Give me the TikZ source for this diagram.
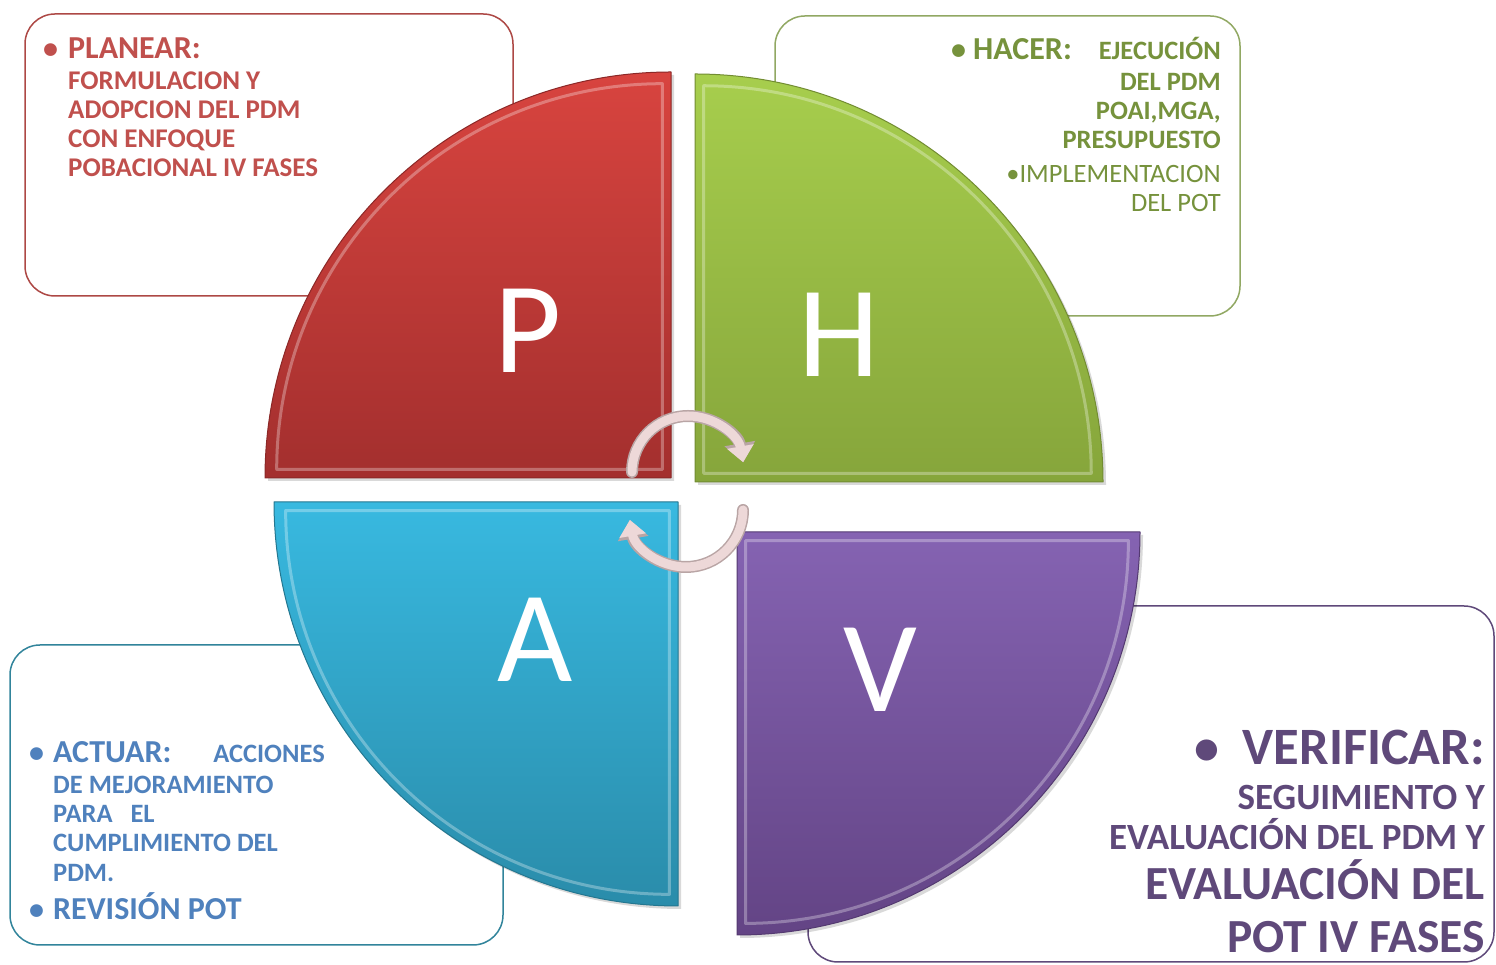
\documentclass[tikz,border=0pt]{standalone}
\usepackage{fontspec}
\setmainfont{Carlito}
\usetikzlibrary{arrows.meta}
\usetikzlibrary{positioning}

\definecolor{rojo}{HTML}{C0504D}
\definecolor{rojoA}{HTML}{D8443F}
\definecolor{rojoB}{HTML}{A32F2E}
\definecolor{verde}{HTML}{76923C}
\definecolor{verdeA}{HTML}{A7CE4D}
\definecolor{verdeB}{HTML}{86A53B}
\definecolor{azul}{HTML}{4F81BD}
\definecolor{azulC}{HTML}{31849B}
\definecolor{cianA}{HTML}{38B9E0}
\definecolor{cianB}{HTML}{2A8CAA}
\definecolor{morado}{HTML}{5F497A}
\definecolor{moradoA}{HTML}{8563B2}
\definecolor{moradoB}{HTML}{634485}
\definecolor{rosa}{HTML}{EDD8D8}
\definecolor{rosaB}{HTML}{B9A5A5}

\begin{document}
\begin{tikzpicture}[x=1pt,y=1pt,line join=round,line cap=round,
  caja/.style={rounded corners=30pt,line width=1.5pt,fill=white},
  letra/.style={text=white,inner sep=0pt,font=\fontsize{130}{130}\selectfont},
  txt/.style={inner sep=0pt,font=\bfseries\fontsize{#1}{#1}\selectfont},
  fino/.style={inner sep=0pt,font=\fontsize{#1}{#1}\selectfont},
  brillo/.style={white,opacity=.3,line width=3pt},
  sombra/.style={black,opacity=.15}]
\useasboundingbox (0,0) rectangle (1496,965);

% cajas de texto
\draw[caja,draw=rojo!90!black] (25,669) rectangle (513,951);
\draw[caja,draw=verde!80!white] (775,649) rectangle (1240,949);
\draw[caja,draw=azulC] (10,20) rectangle (503,320);
\draw[caja,draw=morado] (808,3) rectangle (1494,359);

% sombras
\fill[sombra] (674,484) -- (674,890) arc[start angle=90,end angle=180,radius=406] -- cycle;
\fill[sombra] (698,480) -- (1106,480) arc[start angle=0,end angle=90,radius=408] -- cycle;
\fill[sombra] (681,460) -- (277,460) arc[start angle=180,end angle=270,radius=404] -- cycle;
\fill[sombra] (740,430) -- (740,27) arc[start angle=270,end angle=360,radius=403] -- cycle;

% P
\shade[top color=rojoA,bottom color=rojoB,draw=rojoB!85!black,line width=1pt]
  (671,487) -- (671,893) arc[start angle=90,end angle=180,radius=406] -- cycle;
\draw[brillo,scale around={0.95:(499,659)}]
  (671,487) -- (671,893) arc[start angle=90,end angle=180,radius=406] -- cycle;
% H
\shade[top color=verdeA,bottom color=verdeB,draw=verdeB!85!black,line width=1pt]
  (695,483) -- (1103,483) arc[start angle=0,end angle=90,radius=408] -- cycle;
\draw[brillo,scale around={0.95:(868,656)}]
  (695,483) -- (1103,483) arc[start angle=0,end angle=90,radius=408] -- cycle;
% A
\shade[top color=cianA,bottom color=cianB,draw=cianB!85!black,line width=1pt]
  (678,463) -- (274,463) arc[start angle=180,end angle=270,radius=404] -- cycle;
\draw[brillo,scale around={0.95:(507,292)}]
  (678,463) -- (274,463) arc[start angle=180,end angle=270,radius=404] -- cycle;
% V
\shade[top color=moradoA,bottom color=moradoB,draw=moradoB!85!black,line width=1pt]
  (737,433) -- (737,30) arc[start angle=270,end angle=360,radius=403] -- cycle;
\draw[brillo,scale around={0.95:(908,262)}]
  (737,433) -- (737,30) arc[start angle=270,end angle=360,radius=403] -- cycle;

\node[letra] (P) at (528,634) {P};
\node[letra] (H) at (839,630) {H};
\node[letra] (A) at (535,325) {A};
\node[letra] (V) at (880,295) {V};

% flechas del ciclo
\draw[rosaB,line width=12pt,-{Triangle[width=30pt,length=19pt]}]
  (632,493) arc[start angle=180,end angle=10,radius=56];
\draw[rosa,line width=9pt,-{Triangle[width=26pt,length=16pt]}]
  (632,493) arc[start angle=180,end angle=10,radius=56];
\draw[rosaB,line width=12pt,-{Triangle[width=30pt,length=19pt]}]
  (743,455) arc[start angle=0,end angle=-170,radius=57];
\draw[rosa,line width=9pt,-{Triangle[width=26pt,length=16pt]}]
  (743,455) arc[start angle=0,end angle=-170,radius=57];

% planear
\node[txt=30,text=rojo,anchor=base west] (pbul) at (43,906) {•};
\node[txt=32,text=rojo,anchor=base west] (planear) at (68,906) {PLANEAR:};
\node[txt=27,text=rojo,anchor=base west] (p1) at (68,875) {FORMULACION Y};
\node[txt=27,text=rojo,anchor=base west] (p2) at (68,846) {ADOPCION DEL PDM};
\node[txt=27,text=rojo,anchor=base west] (p3) at (68,817) {CON ENFOQUE};
\node[txt=27,text=rojo,anchor=base west] (p4) at (68,788) {POBACIONAL IV FASES};

% hacer
\node[txt=30,text=verde,anchor=base west] (hbul) at (951,905) {•};
\node[txt=32,text=verde,anchor=base east] (hacer) at (1072,905) {HACER:};
\node[txt=26.5,text=verde,anchor=base east] (h0) at (1221,905) {EJECUCIÓN};
\node[txt=26.5,text=verde,anchor=base east] (h1) at (1221,874) {DEL PDM};
\node[txt=26.5,text=verde,anchor=base east] (h2) at (1221,845) {POAI,MGA,};
\node[txt=26.5,text=verde,anchor=base east] (h3) at (1221,816) {PRESUPUESTO};
\node[fino=26.5,text=verde,anchor=base east] (h4) at (1221,782) {•IMPLEMENTACION};
\node[fino=26.5,text=verde,anchor=base east] (h5) at (1221,753) {DEL POT};

% actuar
\node[txt=30,text=azul,anchor=base west] (abul) at (29,202) {•};
\node[txt=32,text=azul,anchor=base west] (actuar) at (53,202) {ACTUAR:};
\node[txt=26.5,text=azul,anchor=base east] (a0) at (325,202) {ACCIONES};
\node[txt=26.5,text=azul,anchor=base west] (a1) at (53,171) {DE MEJORAMIENTO};
\node[txt=26.5,text=azul,anchor=base west] (a2) at (53,142) {PARA\ \ \ EL};
\node[txt=26.5,text=azul,anchor=base west] (a3) at (53,113) {CUMPLIMIENTO DEL};
\node[txt=26.5,text=azul,anchor=base west] (a4) at (53,83) {PDM.};
\node[txt=30,text=azul,anchor=base west] (rbul) at (29,45) {•};
\node[txt=32,text=azul,anchor=base west] (revision) at (53,45) {REVISIÓN POT};

% verificar
\node[txt=50,text=morado,anchor=base west] (vbul) at (1194,200) {•};
\node[txt=52.5,text=morado,anchor=base east] (verificar) at (1485,200) {VERIFICAR:};
\node[txt=37,text=morado,anchor=base east] (v1) at (1485,155) {SEGUIMIENTO Y};
\node[txt=37,text=morado,anchor=base east] (v2) at (1485,115) {EVALUACIÓN DEL PDM Y};
\node[txt=47.5,text=morado,anchor=base east] (v3) at (1485,65) {EVALUACIÓN DEL};
\node[txt=47.5,text=morado,anchor=base east] (v4) at (1485,12) {POT IV FASES};
\end{tikzpicture}
\end{document}
